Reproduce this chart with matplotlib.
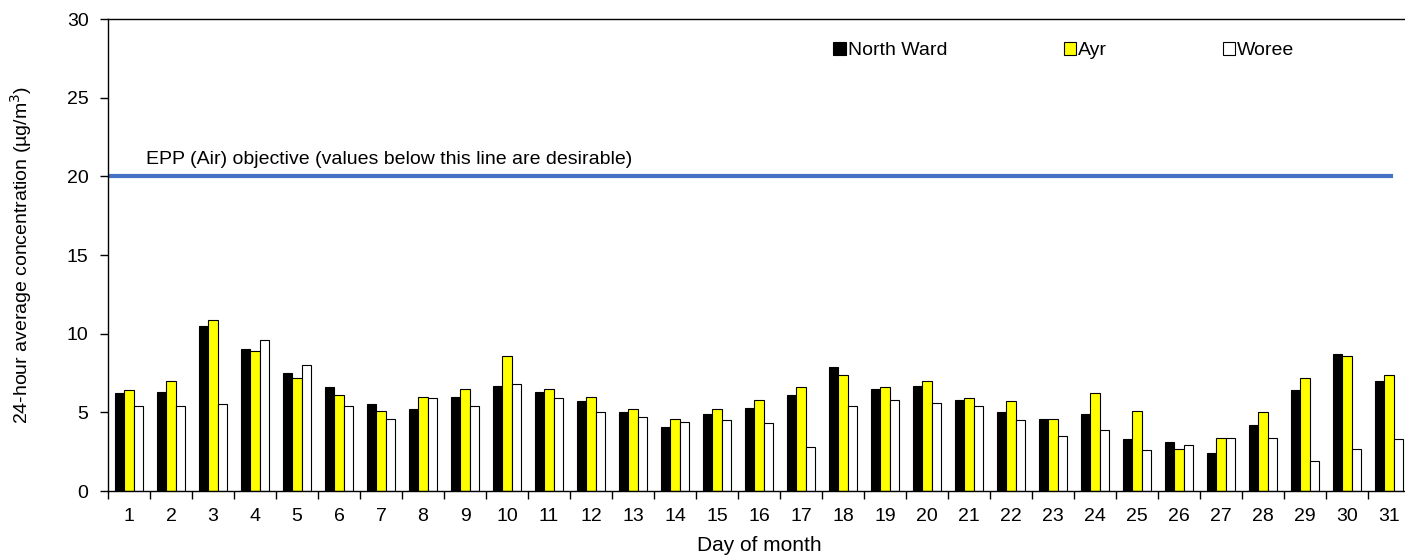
import numpy as np
import matplotlib.pyplot as plt
from matplotlib.legend import Legend
from matplotlib.patches import Patch
from matplotlib.ticker import FixedLocator, NullFormatter

plt.rcParams['font.family'] = ['Liberation Sans', 'DejaVu Sans']

days = list(range(1, 32))
north_ward = [6.2, 6.3, 10.5, 9.0, 7.5, 6.6, 5.5, 5.2, 6.0, 6.7, 6.3, 5.7, 5.0, 4.1, 4.9, 5.3,
              6.1, 7.9, 6.5, 6.7, 5.8, 5.0, 4.6, 4.9, 3.3, 3.1, 2.4, 4.2, 6.4, 8.7, 7.0]
ayr = [6.4, 7.0, 10.9, 8.9, 7.2, 6.1, 5.1, 6.0, 6.5, 8.6, 6.5, 6.0, 5.2, 4.6, 5.2, 5.8,
       6.6, 7.4, 6.6, 7.0, 5.9, 5.7, 4.6, 6.2, 5.1, 2.7, 3.4, 5.0, 7.2, 8.6, 7.4]
woree = [5.4, 5.4, 5.5, 9.6, 8.0, 5.4, 4.6, 5.9, 5.4, 6.8, 5.9, 5.0, 4.7, 4.4, 4.5, 4.3,
         2.8, 5.4, 5.8, 5.6, 5.4, 4.5, 3.5, 3.9, 2.6, 2.9, 3.4, 3.4, 1.9, 2.7, 3.3]
objective = 20

fs = 14

fig = plt.figure(figsize=(14.05, 5.6), dpi=100)
ax = fig.add_axes([0.0769, 0.1232, 0.9267, 0.8428])

x = np.arange(len(days))
w = 0.222
ax.bar(x - w, north_ward, w, color='black', edgecolor='black', linewidth=0.8)
ax.bar(x, ayr, w, color='#FFFF00', edgecolor='black', linewidth=0.8)
ax.bar(x + w, woree, w, color='white', edgecolor='black', linewidth=0.8)

ax.plot([-0.45, 30.05], [objective, objective], color='#4472C4', linewidth=3)
ax.text(0.4, 20.55, 'EPP (Air) objective (values below this line are desirable)', fontsize=fs, va='bottom')

ax.set_xlim(-0.5, 30.5)
ax.set_ylim(0, 30)
ax.set_yticks(range(0, 31, 5))
ax.set_xticks(x)
ax.set_xticklabels([str(d) for d in days], fontsize=fs)
ax.tick_params(axis='x', which='major', length=0, pad=12)
ax.xaxis.set_minor_locator(FixedLocator(np.arange(-0.5, 31, 1)))
ax.xaxis.set_minor_formatter(NullFormatter())
ax.tick_params(axis='x', which='minor', length=6, width=1)
ax.tick_params(axis='y', labelsize=fs, length=6, width=1, pad=8)
for s in ax.spines.values():
    s.set_linewidth(1)

ax.set_xlabel('Day of month', fontsize=15, labelpad=8)
ax.set_ylabel('24-hour average concentration (µg/m$^3$)', fontsize=fs, labelpad=24)

# legend entries placed like the original (three separate items)
entries = [('North Ward', 'black', 0.557), ('Ayr', '#FFFF00', 0.734), ('Woree', 'white', 0.856)]
for name, col, xf in entries:
    h = Patch(facecolor=col, edgecolor='black', linewidth=0.8)
    lg = Legend(ax, [h], [name], loc='center left', bbox_to_anchor=(xf, 0.933),
                frameon=False, fontsize=fs, handlelength=0.65, handleheight=0.65,
                handletextpad=0.1, borderpad=0, borderaxespad=0)
    ax.add_artist(lg)

fig.savefig('out.png', dpi=100)
